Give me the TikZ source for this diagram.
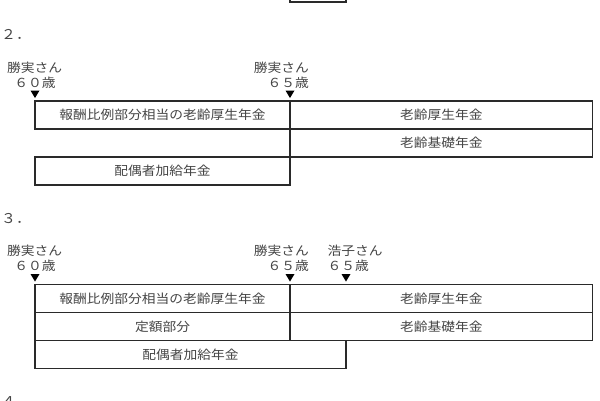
\documentclass[tikz,border=0pt]{standalone}
\usepackage{fontspec}
\newfontfamily\jp{Noto Sans CJK JP}
\definecolor{txt}{HTML}{444444}
\definecolor{ln}{HTML}{2a2a2a}
\newcommand{\jt}[1]{\scalebox{1.1}[1]{#1}}
\begin{document}
\begin{tikzpicture}[x=1pt,y=-1pt,
  lbl/.style={inner sep=0pt, text=txt, font=\jp\fontsize{12.5}{14}\selectfont},
  cell/.style={lbl, draw=ln, line width=1.1pt, minimum height=28pt},
  frame/.style={draw=ln, line width=1.1pt},
  tri/.style={fill=black}]
\useasboundingbox (0,0) rectangle (600,400);
% partial box at top
\draw[frame] (290,-2) -- (290,2) -- (346,2) -- (346,-2);

% ---------- section 2 ----------
\node[lbl, anchor=base west, font=\jp\fontsize{13.5}{14}\selectfont] (h2) at (1,39) {\jt{２．}};
\node[lbl] (k60a) at (34.5,68) {\jt{勝実さん}};
\node[lbl] (a60a) at (35,82.5) {\jt{６０歳}};
\node[lbl, anchor=east] (k65a) at (309,68) {\jt{勝実さん}};
\node[lbl, anchor=east] (a65a) at (309,82.5) {\jt{６５歳}};
\fill[tri] (30.5,90.5) -- (39.5,90.5) -- (35,98) -- cycle;
\fill[tri] (285.5,90.5) -- (294.5,90.5) -- (290,98) -- cycle;
\node[cell, minimum width=255pt] (s2a) at (162.5,115) {\jt{報酬比例部分相当の老齢厚生年金}};
\node[cell, minimum width=302.5pt] (s2b) at (441.25,115) {\jt{老齢厚生年金}};
\node[cell, minimum width=302.5pt] (s2c) at (441.25,143) {\jt{老齢基礎年金}};
\node[cell, minimum width=255pt] (s2d) at (162.5,171) {\jt{配偶者加給年金}};
\draw[frame] (s2a.south east) -- (s2d.north east);

% ---------- section 3 ----------
\node[lbl, anchor=base west, font=\jp\fontsize{13.5}{14}\selectfont] (h3) at (1,223) {\jt{３．}};
\node[lbl] (k60b) at (34.5,250.5) {\jt{勝実さん}};
\node[lbl] (a60b) at (35,265.5) {\jt{６０歳}};
\node[lbl, anchor=east] (k65b) at (309,250.5) {\jt{勝実さん}};
\node[lbl, anchor=east] (a65b) at (309,265.5) {\jt{６５歳}};
\node[lbl, anchor=west] (h65b) at (327.5,250.5) {\jt{浩子さん}};
\node[lbl, anchor=west] (b65b) at (327.5,265.5) {\jt{６５歳}};
\fill[tri] (30.5,274) -- (39.5,274) -- (35,281.5) -- cycle;
\fill[tri] (285.5,274) -- (294.5,274) -- (290,281.5) -- cycle;
\fill[tri] (341.5,274) -- (350.5,274) -- (346,281.5) -- cycle;
\node[cell, minimum width=255pt] (s3a) at (162.5,298.5) {\jt{報酬比例部分相当の老齢厚生年金}};
\node[cell, minimum width=302.5pt] (s3b) at (441.25,298.5) {\jt{老齢厚生年金}};
\node[cell, minimum width=255pt] (s3c) at (162.5,326.5) {\jt{定額部分}};
\node[cell, minimum width=302.5pt] (s3d) at (441.25,326.5) {\jt{老齢基礎年金}};
\node[cell, minimum width=311pt] (s3e) at (190.5,354.5) {\jt{配偶者加給年金}};

% ---------- section 4 (cut off at the lower edge, as in the reference) ----------
\node[lbl, anchor=base west, font=\jp\fontsize{13.5}{14}\selectfont] (h4) at (1,406) {\jt{４．}};
\end{tikzpicture}
\end{document}
